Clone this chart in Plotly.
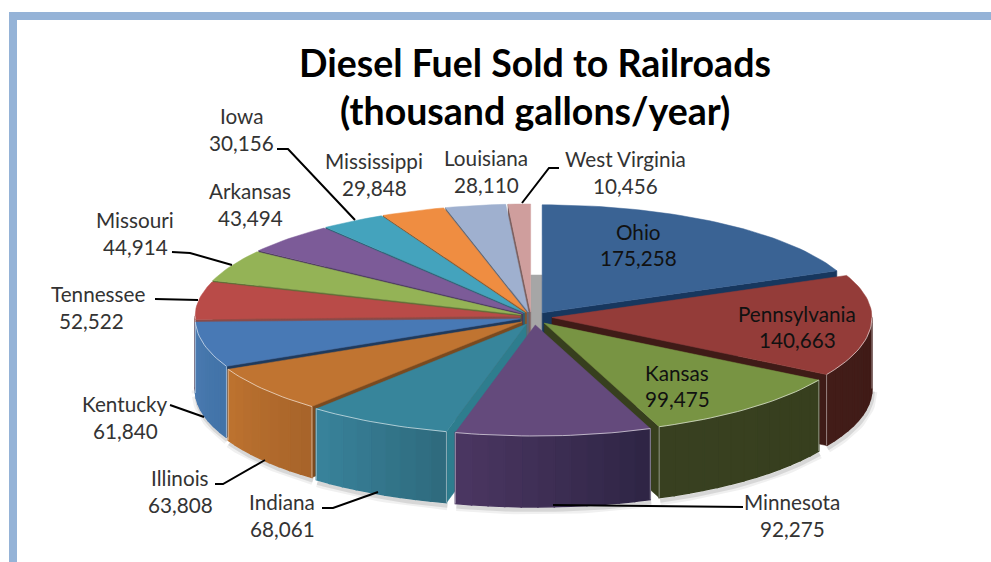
import math
import plotly.graph_objects as go

# ---- data ----
states = ["Ohio", "Pennsylvania", "Kansas", "Minnesota", "Indiana", "Illinois", "Kentucky",
          "Tennessee", "Missouri", "Arkansas", "Iowa", "Mississippi", "Louisiana", "West Virginia"]
gallons = [175258, 140663, 99475, 92275, 68061, 63808, 61840,
           52522, 44914, 43494, 30156, 29848, 28110, 10456]
title_lines = ["Diesel Fuel Sold to Railroads", "(thousand gallons/year)"]

# ---- styles ----
top_colors = ["#3a6394", "#943c39", "#789443", "#644a7c", "#37859b", "#c07431", "#4879b5",
              "#b94b48", "#94b356", "#7c5b98", "#44a3bd", "#ef8d41", "#9fb0cf", "#cf9e9d"]
face_colors = ["#17375e", "#3f1b17", "#373f1e", "#3a2a52", "#2e7d8e", "#7a4a1f", "#1f3a5c",
               "#8a4a48", "#5a6d34", "#4a375c", "#2a6373", "#8f5527", "#5f6a7c", "#7c5f5e"]
wall_start = ["#17375e", "#3f1b17", "#373f1e", "#2f2545", "#2f6b7e", "#a8642a", "#4273a8",
              "#6b2b29", "#5a6d34", "#4a375c", "#2a6373", "#8f5527", "#5f6a7c", "#7c5f5e"]
wall_end = ["#17375e", "#421c18", "#384020", "#4a3661", "#38829a", "#bc722f", "#4a7ab0",
            "#6b2b29", "#5a6d34", "#4a375c", "#2a6373", "#8f5527", "#5f6a7c", "#7c5f5e"]

# ---- geometry (pixel canvas) ----
W, H = 991, 562
CX, CY = 530, 317
DEPTH = 71
EX_R, EX_L, EY_B, EY_F = 22, 10, 5, 8
RX_R, RX_L, RY_B, RY_F = 320, 325, 108, 111
tip_shift = [0, 0, 0, 4, 1, 0, 0, 0, 0, 0, 0, 0, 0, 1]

label_pos = [(638, 232, 258), (797, 314, 340), (677, 373, 399), (792, 502, 529),
             (282, 502, 529), (180, 478, 505), (125, 404, 431), (98, 294, 321),
             (135, 220, 247), (250, 191, 218), (241, 116, 143), (374, 161, 188),
             (486, 158, 185), (625, 159, 186)]
value_dx = [0, 0, 0, 0, 0, 0, 0, -7, 0, 0, 0, 0, 0, 0]
leaders = [[(277, 149), (288, 149), (355, 220)],
           [(172, 252), (190, 253), (232, 265)],
           [(155, 299), (198, 300)],
           [(170, 405), (204, 417)],
           [(215, 484), (223, 484), (265, 460)],
           [(322, 508), (333, 508), (378, 492)],
           [(743, 507), (553, 505)],
           [(522, 203), (549, 168), (559, 168)]]
TEXT_FONT = "Lato"


def hex2rgb(c):
    return tuple(int(c[i:i + 2], 16) for i in (1, 3, 5))


def mix(a, b, t):
    ra, rb = hex2rgb(a), hex2rgb(b)
    return "rgb(%d,%d,%d)" % tuple(round(ra[k] + (rb[k] - ra[k]) * t) for k in range(3))


total = sum(gallons)
spans = []
acc = 0
for g in gallons:
    spans.append((acc / total * 360, (acc + g) / total * 360))
    acc += g


def tip(i):
    m = math.radians(sum(spans[i]) / 2)
    s, c = math.sin(m), math.cos(m)
    return (CX + tip_shift[i] + s * (EX_R if s > 0 else EX_L), CY - c * (EY_B if c > 0 else EY_F))


def rim(t, deg, z=0):
    a = math.radians(deg)
    s, c = math.sin(a), math.cos(a)
    return (t[0] + s * (RX_R if s > 0 else RX_L), t[1] - c * (RY_B if c > 0 else RY_F) + z)


def arc(a0, a1, step=1.5):
    n = max(2, int(abs(a1 - a0) / step) + 1)
    return [a0 + (a1 - a0) * k / n for k in range(n + 1)]


fig = go.Figure()


def poly(pts, color, lw=0.5):
    fig.add_trace(go.Scatter(x=[p[0] for p in pts] + [pts[0][0]], y=[p[1] for p in pts] + [pts[0][1]],
                             mode="lines", fill="toself", fillcolor=color,
                             line=dict(color=color, width=lw), hoverinfo="skip", showlegend=False))


def line(pts, color, width):
    fig.add_trace(go.Scatter(x=[p[0] for p in pts], y=[p[1] for p in pts], mode="lines",
                             line=dict(color=color, width=width), hoverinfo="skip", showlegend=False))


# soft shadow under the front rim
for i, (a0, a1) in enumerate(spans):
    lo, hi = max(a0, 90), min(a1, 270)
    if lo < hi:
        t = tip(i)
        pts = [(p[0] + 1, p[1] + 3) for p in (rim(t, d, DEPTH) for d in arc(lo, hi))]
        line(pts, "rgba(0,0,0,0.06)", 9)
        line(pts, "rgba(0,0,0,0.10)", 4)

# far wall seen through the gap at twelve o'clock
t_o, t_w = tip(0), tip(len(spans) - 1)
poly([(t_w[0], 275), (t_o[0], 275), (t_o[0], t_o[1] + 22), (t_w[0], t_o[1] + 22)], "#a6a6a6")

# painter's order: back to front
order = sorted(range(len(gallons)), key=lambda i: -math.cos(math.radians(sum(spans[i]) / 2)))
for i in order:
    a0, a1 = spans[i]
    t = tip(i)
    s0, s1 = math.sin(math.radians(a0)), math.sin(math.radians(a1))
    if s0 < -1e-6:
        r = rim(t, a0)
        poly([t, r, (r[0], r[1] + DEPTH), (t[0], t[1] + DEPTH)], face_colors[i])
    if s1 > 1e-6:
        r = rim(t, a1)
        poly([t, r, (r[0], r[1] + DEPTH), (t[0], t[1] + DEPTH)], face_colors[i])
    lo, hi = max(a0, 90), min(a1, 270)
    if lo < hi:
        steps = arc(lo, hi, 3)
        for k in range(len(steps) - 1):
            p, q = rim(t, steps[k]), rim(t, steps[k + 1])
            poly([p, q, (q[0], q[1] + DEPTH), (p[0], p[1] + DEPTH)],
                 mix(wall_start[i], wall_end[i], k / max(1, len(steps) - 2)), lw=1.5)
        for d in (lo, hi):
            p = rim(t, d)
            line([p, (p[0], p[1] + DEPTH)], "rgba(255,255,255,0.45)", 1)
    poly([t] + [rim(t, d) for d in arc(a0, a1)], top_colors[i])
    if lo < hi:
        line([rim(t, d) for d in arc(lo, hi)], "rgba(255,255,255,0.6)", 1)

shapes = [
    dict(type="rect", xref="x", yref="y", x0=9, x1=W, y0=12, y1=20, fillcolor="#95b3d7", line_width=0),
    dict(type="rect", xref="x", yref="y", x0=9, x1=17, y0=12, y1=H, fillcolor="#95b3d7", line_width=0),
]
for pts in leaders:
    path = "M " + " L ".join(f"{x} {y}" for x, y in pts)
    shapes.append(dict(type="path", xref="x", yref="y", path=path, line=dict(color="#000000", width=2)))

annotations = []
for txt, yy in zip(title_lines, (62, 110)):
    annotations.append(dict(x=535, y=yy, xref="x", yref="y", text=txt, showarrow=False,
                            xanchor="center", yanchor="middle",
                            font=dict(family=TEXT_FONT, size=37.5, color="#000000", weight="bold")))
inside = {"Ohio", "Pennsylvania", "Kansas"}
for name, val, (lx, y1, y2), dx in zip(states, gallons, label_pos, value_dx):
    col = "#111111" if name in inside else "#333333"
    for txt, xx, yy in ((name, lx, y1), (f"{val:,}", lx + dx, y2)):
        annotations.append(dict(x=xx, y=yy, xref="x", yref="y", text=txt, showarrow=False,
                                xanchor="center", yanchor="middle",
                                font=dict(family=TEXT_FONT, size=20.7, color=col)))

fig.update_layout(
    width=W, height=H, margin=dict(l=0, r=0, t=0, b=0),
    paper_bgcolor="white", plot_bgcolor="white", showlegend=False,
    xaxis=dict(range=[0, W], visible=False, fixedrange=True),
    yaxis=dict(range=[H, 0], visible=False, fixedrange=True),
    shapes=shapes, annotations=annotations,
)
fig.write_html("out.html", post_script="document.body.style.margin='0';",
               config={"displayModeBar": False})
